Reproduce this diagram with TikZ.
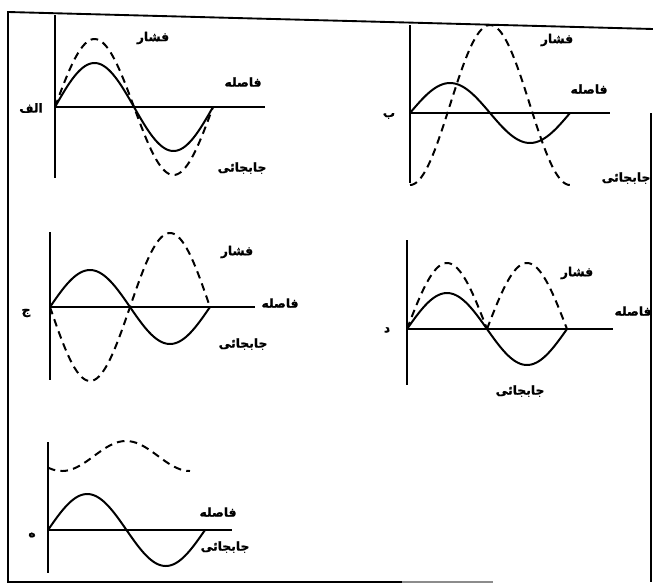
\documentclass[tikz,border=0pt]{standalone}
\usepackage{fontspec}
\newfontfamily\arabicfont[Script=Arabic, FakeBold=1.2]{DejaVu Sans}
\TeXXeTstate=1
\newcommand{\fa}[1]{\beginR #1\endR}

\begin{document}
\begin{tikzpicture}[
  x=0.03cm, y=0.03cm,
  frm/.style={line width=1.6pt},
  ax/.style={line width=1.8pt},
  wave/.style={line width=1.7pt, smooth, samples=80},
  press/.style={wave, dash pattern=on 6.5pt off 4.5pt},
  lbl/.style={font={\arabicfont\bfseries\fontsize{10.5}{12}\selectfont}, inner sep=0pt}
]
\useasboundingbox (0,0) rectangle (653,-585);
% frame
\draw[frm] (653,-29) -- (8,-12) -- (8,-582) -- (402,-582);
\draw[frm, black!45] (402,-582) -- (493,-582);
\draw[frm] (651,-113) -- (651,-582);

% alef
\begin{scope}[shift={(55,-107)}]
\draw[ax] (0,92) -- (0,-71);
\draw[ax] (0,0) -- (210,0);
\draw[wave] plot[domain=0:158] (\x,{44*sin(360/158*\x)});
\draw[press] plot[domain=0:158] (\x,{68*sin(360/158*\x)});
\end{scope}
\node[lbl] (press-a) at (153,-38) {\fa{فشار}};
\node[lbl] (dist-a) at (243,-82) {\fa{فاصله}};
\node[lbl] (tag-a) at (31,-108) {\fa{الف}};
\node[lbl] (disp-a) at (242,-168) {\fa{جابجائی}};

% be
\begin{scope}[shift={(410,-113)}]
\draw[ax] (0,88) -- (0,-70);
\draw[ax] (0,0) -- (200,0);
\draw[wave] plot[domain=0:160] (\x,{30*sin(360/160*\x)});
\draw[press] plot[domain=0:160] (\x,{8-80*cos(360/160*\x)});
\end{scope}
\node[lbl] (press-b) at (557,-40) {\fa{فشار}};
\node[lbl] (dist-b) at (589,-89) {\fa{فاصله}};
\node[lbl] (tag-b) at (389,-116) {\fa{ب}};
\node[lbl] (disp-b) at (626,-178) {\fa{جابجائی}};

% jim
\begin{scope}[shift={(50,-307)}]
\draw[ax] (0,75) -- (0,-73);
\draw[ax] (0,0) -- (205,0);
\draw[wave] plot[domain=0:160] (\x,{37*sin(360/160*\x)});
\draw[press] plot[domain=0:160] (\x,{-74*sin(360/160*\x)});
\end{scope}
\node[lbl] (press-c) at (237,-252) {\fa{فشار}};
\node[lbl] (dist-c) at (280,-303) {\fa{فاصله}};
\node[lbl] (tag-c) at (26,-313) {\fa{ج}};
\node[lbl] (disp-c) at (243,-344) {\fa{جابجائی}};

% dal
\begin{scope}[shift={(407,-329)}]
\draw[ax] (0,89) -- (0,-56);
\draw[ax] (0,0) -- (206,0);
\draw[wave] plot[domain=0:160] (\x,{36*sin(360/160*\x)});
\draw[press] plot[domain=0:80] (\x,{66*sin(360/160*\x)});
\draw[press] plot[domain=80:160] (\x,{-66*sin(360/160*\x)});
\end{scope}
\node[lbl] (press-d) at (577,-273) {\fa{فشار}};
\node[lbl] (dist-d) at (633,-311) {\fa{فاصله}};
\node[lbl] (tag-d) at (387,-330) {\fa{د}};
\node[lbl] (disp-d) at (520,-391) {\fa{جابجائی}};

% he
\begin{scope}[shift={(48,-530)}]
\draw[ax] (0,88) -- (0,-43);
\draw[ax] (0,0) -- (184,0);
\draw[wave] plot[domain=0:157] (\x,{36*sin(360/157*\x)});
\draw[press] plot[domain=0:142] (\x,{74-15*cos(360/128*(\x-14))});
\end{scope}
\node[lbl] (dist-e) at (218,-512) {\fa{فاصله}};
\node[lbl] (tag-e) at (32,-535) {\fa{ه}};
\node[lbl] (disp-e) at (225,-547) {\fa{جابجائی}};
\end{tikzpicture}
\end{document}
